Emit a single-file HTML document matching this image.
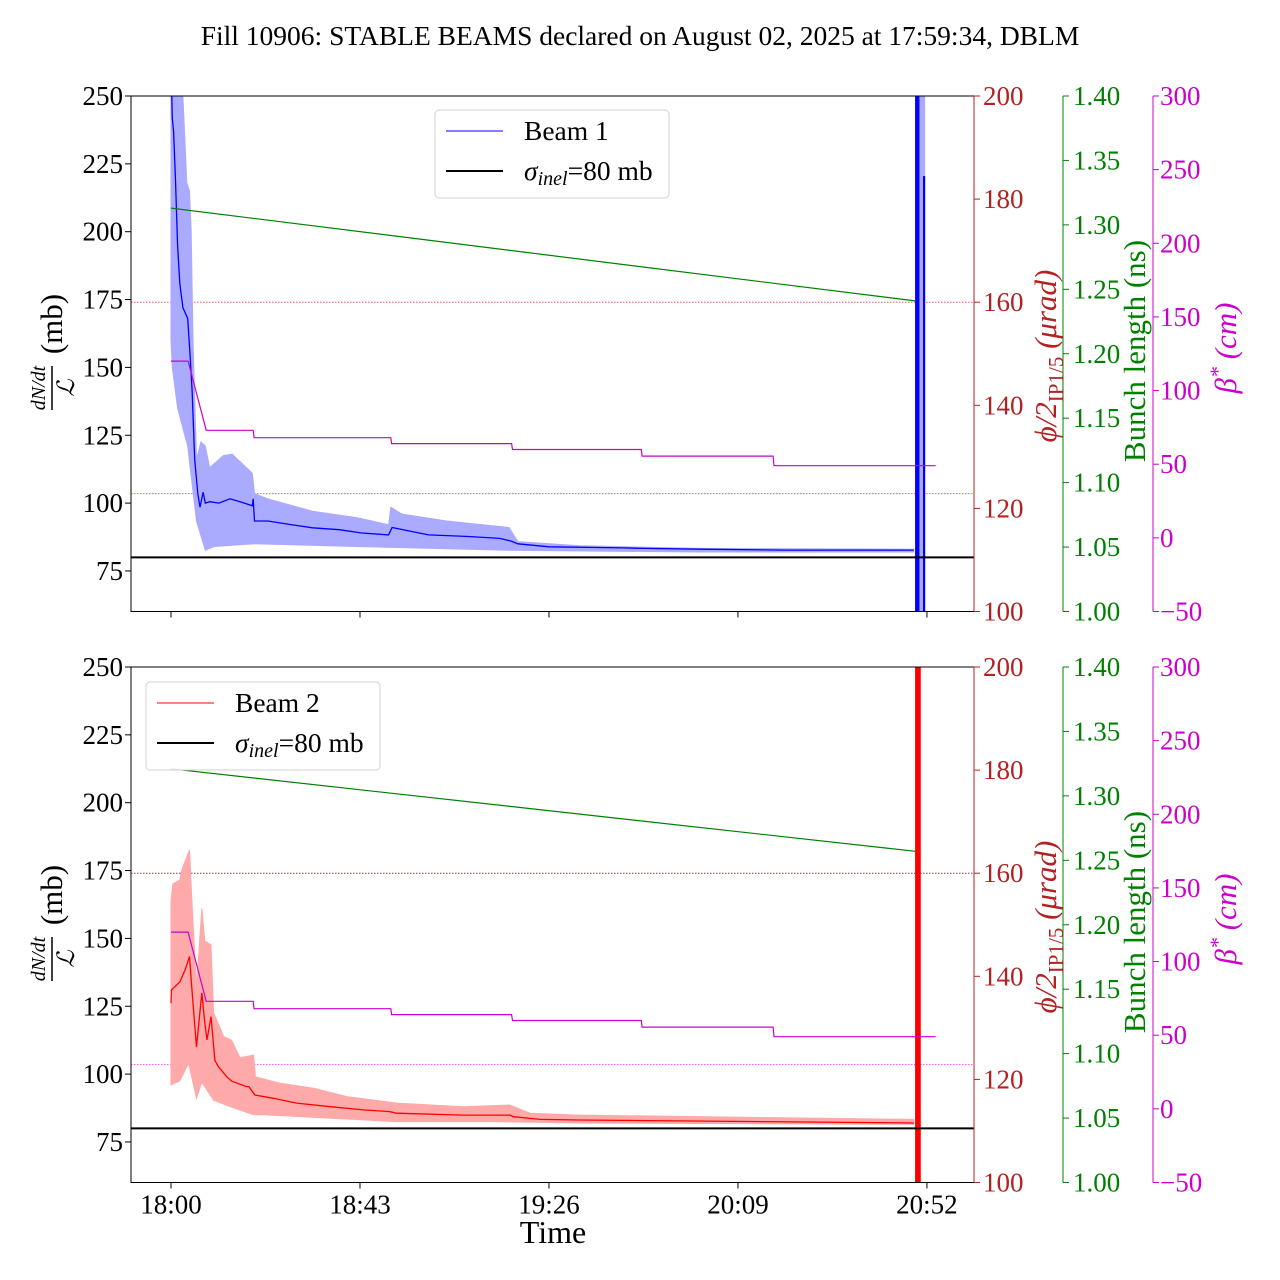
<!DOCTYPE html>
<html><head><meta charset="utf-8">
<style>
html,body{margin:0;padding:0;background:#fff;}
svg{display:block;font-family:"Liberation Serif",serif;}
</style></head>
<body>
<svg id="chart" width="1280" height="1280" viewBox="0 0 1280 1280" xmlns="http://www.w3.org/2000/svg">
<text x="640" y="45" font-size="27.5" text-anchor="middle">Fill 10906: STABLE BEAMS declared on August 02, 2025 at 17:59:34, DBLM</text>
<g id="panels"></g>
<text x="553" y="1243" font-size="32" text-anchor="middle">Time</text>
</svg>
<script>
// ---- data (time in minutes after 18:00) ----
const xTickLabels = ["18:00","18:43","19:26","20:09","20:52"];
const xTickMinutes = [0,43,86,129,172];
const leftTicks = [75,100,125,150,175,200,225,250];
const redTicks = [100,120,140,160,180,200];
const greenTicks = [1.00,1.05,1.10,1.15,1.20,1.25,1.30,1.35,1.40];
const magTicks = [-50,0,50,100,150,200,250,300];

const b1MeanT = [0,0.3,0.6,1,1.5,2,2.7,3.8,4.3,4.8,5.4,6.1,6.6,7.3,7.8,8.8,10.9,13.4,15.9,18.5,18.7,19,22,27.1,32.2,38.3,43.4,49.5,50.3,54.5,58.6,67.7,74.8,77.4,78.9,86,103,107.8,120.3,140,169];
const b1MeanV = [262,241.8,236.7,220,195,181,172,168,155.5,141.6,116,103.5,98.5,104,100,100.5,100,101.6,100.4,99,101.6,93.4,93.4,92.1,90.9,90.2,89,88.3,91,89.6,88.3,87.7,87,86,85,83.9,83.5,83.3,83,82.7,82.7];
const b1LowT = [0,0.3,1.5,3.8,4.8,5.8,7.8,9.8,19,42,77,120,169];
const b1LowV = [160,150,135,121,107,93.4,82.6,84,85,84,82.6,82,82];
const b1UpT = [0,2.7,3.6,4.2,4.6,5.0,5.8,6.8,7.8,8.8,11.9,13.9,18.5,19,22,32.2,42.4,49.5,50,52.5,62.7,76.9,78.9,93,120.3,169];
const b1UpV = [270,250,218,215,200,160,116,122.5,121,113,117.5,118,111,103.5,101.6,97,94.6,92,98.5,96,93.4,91,85.8,84.3,83.3,83];

const b2MeanT = [0,0.1,2.05,3.2,4.2,4.7,5.8,7,7.7,8.2,9.1,10,10.8,12.7,13.8,17.2,17.7,19.1,23.3,28.6,36.2,43.8,49.8,51.3,66.5,77.1,77.9,84,93,169];
const b2MeanV = [126.1,131,134,138.4,143.3,132.2,110,129.9,118.8,112.6,121.2,105,102.7,99,97.4,95.4,95.4,92.3,91.1,89.3,88,86.8,86.2,85.6,84.9,84.9,84.3,83.3,83.1,82];
const b2LowT = [0,2,4,5.8,7,9.7,13.5,18.8,21,36,51,72,93,169];
const b2LowV = [96,97.5,104,91,97,90.4,88,85,85,83.8,82.5,82.5,82,81.5];
const b2UpT = [0,0.4,2,2.4,4.2,4.7,5.8,7,7.7,9.1,9.7,12,13.8,15.7,18.8,19.2,24.9,32.5,40,51.4,66.5,77.1,81.7,93,169];
const b2UpV = [164,170,171.5,175,182.6,165.4,132,161,149,147.6,122.5,113.8,112.5,106,107,99,96.6,94.8,91.7,89.3,88,88.6,85.6,84.9,83.3];

const betaT = [0,3.9,8,18.7,18.9,50,50.2,77.5,77.7,107,107.2,137,137.2,174];
const betaV = [120,120,73,73,68,68,64,64,60,60,55.5,55.5,49,49];
const bunchT1 = [0,169.3];
const bunchV1 = [1.313,1.241];
const bunchT2 = [0,169.3];
const bunchV2 = [1.321,1.257];
const crossingRef = [160];
const betaRef = [30];
const sigmaInel = [80];
const spikeT1 = [[169.3,170.3,250],[171.1,171.6,220.5]];
const spikeLight1 = [[170.3,171.6,250]];
const spikeT2 = [[169.3,170.6,250]];

// ---- axis functions ----
const X0 = 171, PXM = 4.395, L = 131, R = 974, H = 515.5;
const FS = 27;
const xs = t => X0 + t * PXM;
const mkY = top => v => top + (250 - v) * 2.714;
const mkRed = top => v => top + H - (v - 100) / 100 * H;
const mkGreen = top => v => top + H - (v - 1.0) / 0.4 * H;
const mkMag = top => v => top + H - (v + 50) / 350 * H;

const NS = "http://www.w3.org/2000/svg";
function el(tag, attrs, parent, txt) {
  const e = document.createElementNS(NS, tag);
  for (const k in attrs) e.setAttribute(k, attrs[k]);
  if (txt !== undefined) e.textContent = txt;
  parent.appendChild(e);
  return e;
}
const root = document.getElementById("panels");

function panel(idx, top, meanT, meanV, lowT, lowV, upT, upV, col, bandCol, bT, bV, spikes, light, beamLabel, legX, legY, refCol) {
  const y = mkY(top), yr = mkRed(top), yg = mkGreen(top), ym = mkMag(top);
  const g = el("g", {}, root);
  
  
  const cp = el("clipPath", {id: "clip" + idx}, g);
  el("rect", {x: L, y: top, width: R - L, height: H}, cp);
  const plot = el("g", {"clip-path": "url(#clip" + idx + ")"}, g);
  const rl = el("line", {x1: L, x2: R, y1: yr(crossingRef[0]), y2: yr(crossingRef[0]), stroke: refCol, "stroke-width": 1, "stroke-dasharray": "1.5 1.5"}, plot);
  
  
  const ml = el("line", {x1: L, x2: R, y1: ym(betaRef[0]), y2: ym(betaRef[0]), stroke: "#ff44ff", "stroke-width": 1, "stroke-dasharray": "1.5 1.5"}, plot);
  
  
  let d = "";
  upT.forEach((t, i) => d += (i ? "L" : "M") + xs(t).toFixed(1) + "," + y(upV[i]).toFixed(1));
  for (let i = lowT.length - 1; i >= 0; i--) d += "L" + xs(lowT[i]).toFixed(1) + "," + y(lowV[i]).toFixed(1);
  const band = el("path", {d: d + "Z", fill: bandCol, stroke: bandCol, "stroke-width": 1}, plot);
  
  
  const mp = el("polyline", {points: meanT.map((t, i) => xs(t).toFixed(1) + "," + y(meanV[i]).toFixed(1)).join(" "), fill: "none", stroke: col, "stroke-width": 1.3}, plot);
  
  
  light.forEach(s => {
    const r = el("rect", {x: xs(s[0]), y: y(s[2]), width: xs(s[1]) - xs(s[0]), height: top + H - y(s[2]), fill: bandCol}, plot);
    
    
  });
  spikes.forEach(s => {
    const r = el("rect", {x: xs(s[0]), y: y(s[2]), width: xs(s[1]) - xs(s[0]), height: top + H - y(s[2]), fill: col}, plot);
    
    
  });
  const sl = el("line", {x1: L, x2: R, y1: y(sigmaInel[0]), y2: y(sigmaInel[0]), stroke: "#000", "stroke-width": 2}, plot);
  
  
  const bl = el("polyline", {points: bT.map((t, i) => xs(t).toFixed(1) + "," + yg(bV[i]).toFixed(1)).join(" "), fill: "none", stroke: "#008000", "stroke-width": 1.2}, plot);
  
  
  const be = el("polyline", {points: betaT.map((t, i) => xs(t).toFixed(1) + "," + ym(betaV[i]).toFixed(1)).join(" "), fill: "none", stroke: "#cc00cc", "stroke-width": 1.2}, plot);
  
  
  const fr = el("rect", {x: L, y: top, width: R - L, height: H, fill: "none", stroke: "#000", "stroke-width": 1}, g);
  
  
  leftTicks.forEach(v => {
    el("line", {x1: L - 6, x2: L, y1: y(v), y2: y(v), stroke: "#000"}, g);
    const t = el("text", {x: L - 8, y: y(v) + 9, "font-size": FS, "text-anchor": "end"}, g, v);
    
    
  });
  xTickMinutes.forEach((m, i) => {
    el("line", {x1: xs(m), x2: xs(m), y1: top + H, y2: top + H + 6, stroke: "#000"}, g);
    if (idx === 2) {
      const t = el("text", {x: xs(m), y: top + H + 31, "font-size": FS, "text-anchor": "middle"}, g, xTickLabels[i]);
      
      
    }
  });
  el("line", {x1: R, x2: R, y1: top, y2: top + H, stroke: "#b22222"}, g);
  redTicks.forEach(v => {
    el("line", {x1: R, x2: R + 6, y1: yr(v), y2: yr(v), stroke: "#b22222"}, g);
    const t = el("text", {x: R + 9, y: yr(v) + 9, "font-size": FS, fill: "#b22222"}, g, v);
    
    
  });
  const GX = 1063;
  el("line", {x1: GX, x2: GX, y1: top, y2: top + H, stroke: "#008000"}, g);
  greenTicks.forEach(v => {
    el("line", {x1: GX, x2: GX + 6, y1: yg(v), y2: yg(v), stroke: "#008000"}, g);
    const t = el("text", {x: GX + 10, y: yg(v) + 9, "font-size": FS, fill: "#008000"}, g, v.toFixed(2));
    
    
  });
  const MX = 1153;
  el("line", {x1: MX, x2: MX, y1: top, y2: top + H, stroke: "#cc00cc"}, g);
  magTicks.forEach(v => {
    el("line", {x1: MX, x2: MX + 6, y1: ym(v), y2: ym(v), stroke: "#cc00cc"}, g);
    const t = el("text", {x: MX + 7, y: ym(v) + 9, "font-size": FS, fill: "#cc00cc"}, g, v < 0 ? "\u2212" + (-v) : v);
    
    
  });
  const cy = top + 260;
  const lt = el("g", {transform: "translate(52," + cy + ") rotate(-90)"}, g);
  
  
  el("text", {x: -32, y: -7, "font-size": 20, "font-style": "italic", "text-anchor": "middle"}, lt, "dN/dt");
  el("line", {x1: -54, x2: -10, y1: 0, y2: 0, stroke: "#000", "stroke-width": 1.5}, lt);
  el("text", {x: -32, y: 22, "font-size": 24, "font-style": "italic", "text-anchor": "middle"}, lt, "\u2112");
  el("text", {x: 32, y: 10, "font-size": 31, "text-anchor": "middle"}, lt, "(mb)");
  const rt = el("text", {transform: "translate(1056," + cy + ") rotate(-90)", "font-size": 31, fill: "#b22222", "text-anchor": "middle"}, g);
  
  
  el("tspan", {"font-style": "italic"}, rt, "\u03d5/2");
  el("tspan", {"font-size": 21, dy: 7}, rt, "IP1/5");
  el("tspan", {dy: -7, "font-style": "italic"}, rt, " (\u03bcrad)");
  const gt = el("text", {transform: "translate(1145," + (cy - 5) + ") rotate(-90)", "font-size": 31, fill: "#008000", "text-anchor": "middle"}, g, "Bunch length (ns)");
  
  
  const mt = el("text", {transform: "translate(1236," + (cy - 8) + ") rotate(-90)", "font-size": 31, fill: "#cc00cc", "text-anchor": "middle", "font-style": "italic"}, g);
  
  
  el("tspan", {}, mt, "\u03b2");
  el("tspan", {dy: -11, "font-size": 22}, mt, "*");
  el("tspan", {dy: 11}, mt, " (cm)");
  const lg = el("g", {}, g);
  
  
  el("rect", {x: legX, y: legY, width: 234, height: 88, rx: 4, fill: "#fff", "fill-opacity": 0.85, stroke: "#d0d0d0"}, lg);
  el("line", {x1: legX + 11, x2: legX + 68, y1: legY + 21, y2: legY + 21, stroke: col, "stroke-width": 1}, lg);
  el("text", {x: legX + 89, y: legY + 30, "font-size": 27.5}, lg, beamLabel);
  el("line", {x1: legX + 11, x2: legX + 68, y1: legY + 61, y2: legY + 61, stroke: "#000", "stroke-width": 2}, lg);
  const s = el("text", {x: legX + 89, y: legY + 70, "font-size": 27.5}, lg);
  el("tspan", {"font-style": "italic"}, s, "\u03c3");
  el("tspan", {"font-style": "italic", "font-size": 20, dy: 5}, s, "inel");
  el("tspan", {dy: -5}, s, "=80 mb");
}

panel(1, 96, b1MeanT, b1MeanV, b1LowT, b1LowV, b1UpT, b1UpV, "#0000ff", "#aaaaff", bunchT1, bunchV1, spikeT1, spikeLight1, "Beam 1", 435, 110, "#e06060");
panel(2, 667, b2MeanT, b2MeanV, b2LowT, b2LowV, b2UpT, b2UpV, "#ff0000", "#ffaaaa", bunchT2, bunchV2, spikeT2, [], "Beam 2", 146, 682, "#804040");
</script>
</body></html>
